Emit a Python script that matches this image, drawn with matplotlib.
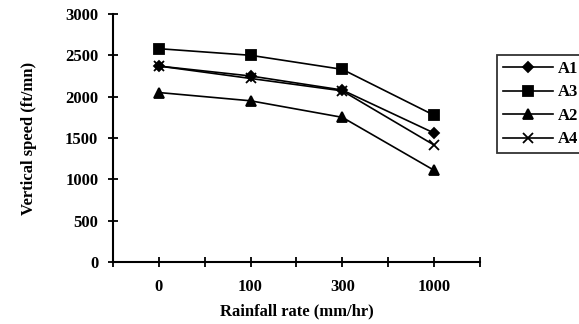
import matplotlib
matplotlib.use('Agg')
import matplotlib.pyplot as plt
from matplotlib.ticker import MultipleLocator

plt.rcParams.update({'font.family': 'Liberation Serif', 'font.weight': 'bold',
                     'axes.labelweight': 'bold', 'font.size': 12})

rates = ['0', '100', '300', '1000']
a1 = [2370, 2250, 2080, 1560]
a3 = [2580, 2500, 2330, 1775]
a2 = [2050, 1950, 1750, 1110]
a4 = [2370, 2220, 2070, 1415]

series = [('A1', a1, 'D', 5.5), ('A3', a3, 's', 6.5), ('A2', a2, '^', 7), ('A4', a4, 'x', 7.5)]

fig = plt.figure(figsize=(5.79, 3.24), dpi=100)
ax = fig.add_axes([0.195, 0.191, 0.634, 0.766])

pos = [i + 0.5 for i in range(len(rates))]
for name, vals, m, ms in series:
    ax.plot(pos, vals, color='black', lw=1.2, marker=m, ms=ms, mew=1.3, label=name)

ax.set_xlim(0, 4)
ax.set_ylim(0, 3000)
ax.yaxis.set_major_locator(MultipleLocator(500))
ax.xaxis.set_major_locator(MultipleLocator(1))
ax.set_xticks(pos, rates, minor=True)
ax.xaxis.set_major_formatter(plt.NullFormatter())
ax.tick_params(axis='both', which='both', direction='inout', length=7, width=1.3, labelsize=12)
ax.tick_params(axis='y', pad=7)
ax.tick_params(axis='x', which='minor', pad=9)

for s in ['top', 'right']:
    ax.spines[s].set_visible(False)
for s in ['left', 'bottom']:
    ax.spines[s].set_linewidth(1.5)

ax.set_xlabel('Rainfall rate (mm/hr)', fontsize=12, labelpad=6)
ax.set_ylabel('Vertical speed (ft/mn)', fontsize=12, labelpad=20)

leg = fig.legend(loc='upper left', bbox_to_anchor=(0.858, 0.83), handlelength=3.0,
                 handletextpad=0.3, frameon=True, fancybox=False, edgecolor='black',
                 borderpad=0.35, borderaxespad=0, labelspacing=0.45,
                 prop={'family': 'Liberation Serif', 'weight': 'bold', 'size': 12})
leg.get_frame().set_linewidth(1.3)

fig.savefig('out.png', dpi=100)
